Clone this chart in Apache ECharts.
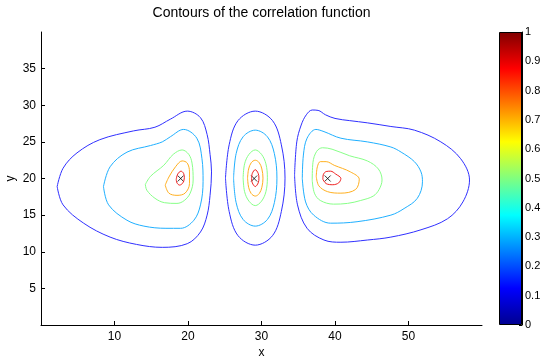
<!DOCTYPE html>
<html>
<head>
<meta charset="utf-8">
<script src="https://cdn.jsdelivr.net/npm/echarts@6/dist/echarts.min.js"></script>
<style>
  html, body { margin: 0; padding: 0; background: #fff; }
  #main { width: 545px; height: 362px; }
</style>
</head>
<body>
<div id="main"></div>
<script>
// tick labels
var xTicks = [10, 20, 30, 40, 50];
var yTicks = [5, 10, 15, 20, 25, 30, 35];
var cbTicks = [0, 0.1, 0.2, 0.3, 0.4, 0.5, 0.6, 0.7, 0.8, 0.9, 1];

// contour levels
var levels = [0.1, 0.3, 0.5, 0.7, 0.9];

// peaks of the correlation function (x markers)
var peaks = [[19, 20], [29, 20], [39, 20]];

// left lobe
var left01 = [[2.2,18.9],[3.0,21.4],[4.9,23.5],[8.0,25.3],[12.6,26.5],[15.5,27.0],[17.6,28.1],[19.9,29.2],[21.7,28.3],[22.6,26.0],[23.0,23.3],[23.2,20.9],[23.0,17.7],[22.6,15.0],[21.7,12.7],[19.9,11.1],[16.5,10.6],[13.0,11.0],[9.4,12.0],[5.8,13.9],[3.0,16.4],[2.2,18.9]];
var left03 = [[8.5,18.9],[9.4,21.6],[11.7,23.6],[14.9,24.5],[16.5,25.0],[17.6,25.7],[19.4,26.7],[21.2,25.5],[21.9,22.7],[22.05,19.6],[21.7,16.4],[20.8,14.3],[19.0,13.2],[17.0,13.2],[14.0,13.5],[11.7,14.3],[9.2,16.4],[8.5,18.9]];
var left05 = [[14.2,19.2],[14.9,20.3],[16.7,21.8],[18.0,23.3],[19.2,23.9],[20.1,23.3],[20.55,22.1],[20.7,19.8],[20.3,18.0],[19.5,17.0],[18.5,16.6],[16.8,16.7],[15.5,17.3],[14.4,18.4],[14.2,19.2]];
var left07 = [[16.9,19.1],[17.4,20.2],[18.3,21.6],[19.2,22.4],[19.9,22.1],[20.2,20.9],[20.2,19.3],[19.6,18.0],[18.5,17.7],[17.4,18.0],[16.9,19.1]];
var left09 = [[18.4,19.9],[18.6,20.6],[19.05,21.0],[19.4,20.7],[19.5,20.1],[19.3,19.4],[18.85,19.1],[18.5,19.4],[18.4,19.9]];

// middle lobe
var mid01 = [[25.1,20.05],[25.6,24.6],[26.8,27.9],[29.15,29.2],[31.5,27.9],[32.7,24.6],[33.2,20.05],[32.7,15.5],[31.5,12.2],[29.15,10.9],[26.8,12.2],[25.6,15.5],[25.1,20.05]];
var mid03 = [[26.2,20.05],[26.55,23.4],[27.5,25.7],[29.15,26.6],[30.8,25.7],[31.75,23.4],[32.1,20.05],[31.75,16.7],[30.8,14.4],[29.15,13.5],[27.5,14.4],[26.55,16.7],[26.2,20.05]];
var mid05 = [[27.5,20.1],[27.7,22.0],[28.3,23.3],[29.15,23.9],[30.0,23.3],[30.6,22.0],[30.8,20.1],[30.6,18.2],[30.0,16.9],[29.15,16.3],[28.3,16.9],[27.7,18.2],[27.5,20.1]];
var mid07 = [[28.1,20.05],[28.25,21.3],[28.6,22.15],[29.15,22.5],[29.7,22.15],[30.05,21.3],[30.2,20.05],[30.05,18.8],[29.7,17.95],[29.15,17.6],[28.6,17.95],[28.25,18.8],[28.1,20.05]];
var mid09 = [[28.65,20.05],[28.75,20.7],[29.15,21.2],[29.55,20.7],[29.65,20.05],[29.55,19.4],[29.15,18.9],[28.75,19.4],[28.65,20.05]];

// right lobe
var right01 = [[34.5,20.5],[34.8,25.0],[35.4,27.3],[36.1,28.7],[36.9,29.35],[37.7,29.3],[38.7,28.7],[40.0,28.2],[42.0,27.9],[44.4,27.6],[47.6,27.1],[50.8,26.6],[54.4,25.0],[57.1,22.7],[58.3,19.8],[57.4,16.8],[55.3,14.5],[51.7,13.0],[47.6,12.0],[44.4,11.6],[40.8,11.3],[38.5,11.6],[36.2,13.2],[34.9,16.4],[34.5,20.5]];
var right03 = [[35.55,20.0],[35.7,23.2],[36.2,25.5],[37.4,26.7],[38.5,26.4],[40.8,25.5],[44.4,25.0],[47.6,24.3],[49.0,23.6],[50.8,22.3],[51.7,20.9],[51.9,19.55],[51.2,17.3],[49.4,15.9],[47.6,15.0],[43.0,14.1],[39.4,13.9],[37.1,15.0],[36.0,16.8],[35.55,20.0]];
var right05 = [[36.9,19.8],[37.0,22.2],[37.5,23.7],[38.3,24.2],[39.6,24.0],[42.0,23.1],[44.4,22.4],[45.9,21.3],[46.4,19.8],[46.0,18.5],[45.2,17.6],[43.5,17.0],[41.7,16.6],[39.8,16.5],[38.0,17.0],[37.2,18.0],[36.9,19.8]];
var right07 = [[37.45,20.3],[37.6,21.6],[38.0,22.3],[38.8,22.3],[39.9,21.8],[42.1,20.9],[43.3,19.9],[42.8,18.5],[40.8,18.0],[39.0,18.2],[37.8,19.0],[37.45,20.3]];
var right09 = [[38.35,19.9],[38.4,20.5],[38.8,20.95],[39.4,21.0],[40.1,20.6],[40.8,20.0],[40.5,19.4],[39.7,19.15],[38.8,19.3],[38.35,19.9]];

var contours = [
  [left01, left03, left05, left07, left09],
  [mid01, mid03, mid05, mid07, mid09],
  [right01, right03, right05, right07, right09]
];

// jet colours for each level
var levelColors = ['#3030ff', '#20b0ff', '#88ff88', '#ffb020', '#f02020'];

var chart = echarts.init(document.getElementById('main'));

var series = [];
contours.forEach(function (lobe) {
  lobe.forEach(function (pts, i) {
    series.push({
      name: 'c' + levels[i],
      type: 'line',
      xAxisIndex: 0,
      yAxisIndex: 0,
      data: pts,
      smooth: 0.35,
      symbol: 'none',
      silent: true,
      lineStyle: { color: levelColors[i], width: 1 }
    });
  });
});

series.push({
  type: 'scatter',
  xAxisIndex: 0,
  yAxisIndex: 0,
  data: peaks,
  symbol: 'path://M0,0L10,10M10,0L0,10',
  symbolSize: 6,
  silent: true,
  itemStyle: { color: 'transparent', borderColor: '#000', borderWidth: 1 }
});

// colorbar
series.push({
  type: 'bar',
  xAxisIndex: 1,
  yAxisIndex: 1,
  data: [1],
  barWidth: '100%',
  silent: true,
  itemStyle: {
    borderColor: '#000',
    borderWidth: 1,
    color: new echarts.graphic.LinearGradient(0, 1, 0, 0, [
      { offset: 0, color: '#00008f' },
      { offset: 0.125, color: '#0000ff' },
      { offset: 0.375, color: '#00ffff' },
      { offset: 0.625, color: '#ffff00' },
      { offset: 0.875, color: '#ff0000' },
      { offset: 1, color: '#800000' }
    ])
  }
});

var font = 'Liberation Sans';

var option = {
  animation: false,
  backgroundColor: '#fff',
  textStyle: { fontFamily: font },
  graphic: [{
    type: 'text',
    x: 261.5,
    y: 13,
    style: {
      text: 'Contours of the correlation function',
      fontSize: 14, fontFamily: font, fill: '#000',
      align: 'center', verticalAlign: 'middle'
    }
  }],
  grid: [
    { left: 41, right: 63, top: 32, bottom: 37, outerBoundsMode: 'none', containLabel: false },
    { left: 499, right: 23, top: 32, bottom: 37, outerBoundsMode: 'none', containLabel: false }
  ],
  xAxis: [
    {
      type: 'value',
      gridIndex: 0,
      min: 0,
      max: 60,
      interval: 10,
      name: 'x',
      nameLocation: 'middle',
      nameGap: 22,
      nameMoveOverlap: false,
      nameTextStyle: { fontSize: 12, color: '#000' },
      splitLine: { show: false },
      axisLine: { lineStyle: { color: '#000', width: 1 } },
      axisTick: { inside: true, length: 4, customValues: xTicks, lineStyle: { color: '#000' } },
      axisLabel: { customValues: xTicks, fontSize: 12, color: '#000', margin: 6 }
    },
    {
      type: 'category',
      gridIndex: 1,
      data: ['cb'],
      show: false
    }
  ],
  yAxis: [
    {
      type: 'value',
      gridIndex: 0,
      min: 0,
      max: 40,
      interval: 5,
      name: 'y',
      nameLocation: 'middle',
      nameRotate: 90,
      nameGap: 24,
      nameMoveOverlap: false,
      nameTextStyle: { fontSize: 12, color: '#000' },
      splitLine: { show: false },
      axisLine: { show: true, lineStyle: { color: '#000', width: 1 } },
      axisTick: { show: true, inside: true, length: 4, customValues: yTicks, lineStyle: { color: '#000' } },
      axisLabel: { customValues: yTicks, fontSize: 12, color: '#000', margin: 5 }
    },
    {
      type: 'value',
      gridIndex: 1,
      position: 'right',
      min: 0,
      max: 1,
      interval: 0.1,
      splitLine: { show: false },
      axisLine: { show: true, lineStyle: { color: '#000', width: 1 } },
      axisTick: { show: true, inside: true, length: 3, customValues: cbTicks, lineStyle: { color: '#000' } },
      axisLabel: { customValues: cbTicks, fontSize: 11, color: '#000', margin: 3 }
    }
  ],
  series: series
};

chart.setOption(option);
</script>
</body>
</html>
